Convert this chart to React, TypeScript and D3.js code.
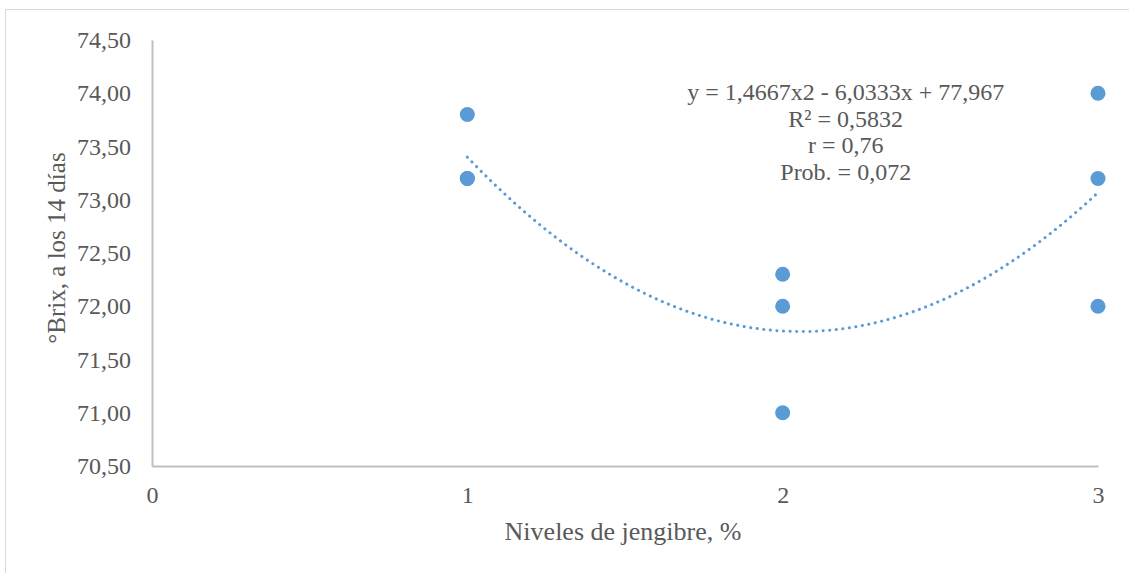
import React, { useEffect, useRef } from "react";
import * as d3 from "d3";

// replicates per ginger level
const levels = [1, 1, 1, 2, 2, 2, 3, 3, 3];
const brix = [73.8, 73.2, 73.2, 72.3, 72.0, 71.0, 74.0, 73.2, 72.0];

const yTicks = [70.5, 71, 71.5, 72, 72.5, 73, 73.5, 74, 74.5];
const xTicks = [0, 1, 2, 3];

// polynomial trendline (order 2) as printed in the chart
const coef = { a: 1.4667, b: -6.0333, c: 77.967 };
const statLines = [
  "y = 1,4667x2 - 6,0333x + 77,967",
  "R² = 0,5832",
  "r = 0,76",
  "Prob. = 0,072",
];

const FONT = '"Liberation Serif", "Times New Roman", serif';

const App = () => {
  const svgRef = useRef<SVGSVGElement>(null);

  useEffect(() => {
    if (!svgRef.current) return;
    const width = 1129;
    const height = 573;
    const margin = { top: 40, right: 31, bottom: 107, left: 152 };
    const innerWidth = width - margin.left - margin.right;
    const innerHeight = height - margin.top - margin.bottom;

    const svg = d3.select(svgRef.current).attr("width", width).attr("height", height);
    svg.selectAll("*").remove();

    // chart border
    svg
      .append("rect")
      .attr("x", 5.5)
      .attr("y", 9.5)
      .attr("width", width + 10)
      .attr("height", height + 10)
      .attr("fill", "white")
      .attr("stroke", "#d9d9d9")
      .attr("stroke-width", 1);

    const x = d3.scaleLinear().domain([0, 3]).range([0, innerWidth]);
    const y = d3.scaleLinear().domain([70.5, 74.5]).range([innerHeight, 0]);

    const g = svg.append("g").attr("transform", `translate(${margin.left},${margin.top})`);

    // axes
    const xAxis = g
      .append("g")
      .attr("transform", `translate(0,${innerHeight})`)
      .call(d3.axisBottom(x).tickValues(xTicks).tickSize(0).tickPadding(20).tickFormat(d3.format("d")));
    const yAxis = g
      .append("g")
      .call(
        d3
          .axisLeft(y)
          .tickValues(yTicks)
          .tickSize(0)
          .tickPadding(21)
          .tickFormat((d) => d3.format(".2f")(d as number).replace(".", ","))
      );
    [xAxis, yAxis].forEach((ax) => {
      ax.select(".domain").attr("stroke", "#bfbfbf").attr("stroke-width", 2);
      ax.selectAll("text")
        .style("font-family", FONT)
        .style("font-size", "24px")
        .attr("fill", "#595959");
    });

    // trendline
    const trend = d3.range(1, 3.0001, 0.02).map((v) => [v, coef.a * v * v + coef.b * v + coef.c]);
    g.append("path")
      .datum(trend)
      .attr("fill", "none")
      .attr("stroke", "#5b9bd5")
      .attr("stroke-width", 3)
      .attr("stroke-linecap", "round")
      .attr("stroke-dasharray", "0.1 6.5")
      .attr(
        "d",
        d3
          .line<number[]>()
          .x((d) => x(d[0]))
          .y((d) => y(d[1]))
      );

    // points
    g.selectAll("circle")
      .data(levels.map((l, i) => ({ l, v: brix[i] })))
      .enter()
      .append("circle")
      .attr("cx", (d) => x(d.l))
      .attr("cy", (d) => y(d.v))
      .attr("r", 7.5)
      .attr("fill", "#5b9bd5");

    // equation label
    const eq = g
      .append("text")
      .attr("text-anchor", "middle")
      .style("font-family", FONT)
      .style("font-size", "24px")
      .attr("fill", "#595959");
    statLines.forEach((s, i) => {
      eq.append("tspan")
        .attr("x", x(2.2))
        .attr("y", 60 + i * 26.7)
        .text(s);
    });

    // axis titles
    svg
      .append("text")
      .attr("text-anchor", "middle")
      .attr("x", 623)
      .attr("y", 540)
      .style("font-family", FONT)
      .style("font-size", "26px")
      .attr("fill", "#595959")
      .text("Niveles de jengibre, %");

    svg
      .append("text")
      .attr("text-anchor", "middle")
      .attr("transform", `translate(65,248) rotate(-90)`)
      .style("font-family", FONT)
      .style("font-size", "25px")
      .attr("fill", "#595959")
      .text("°Brix, a los 14 días");
  }, []);

  return (
    <div style={{ position: "absolute", left: 0, top: 0 }}>
      <svg ref={svgRef}></svg>
    </div>
  );
};

export default App;
